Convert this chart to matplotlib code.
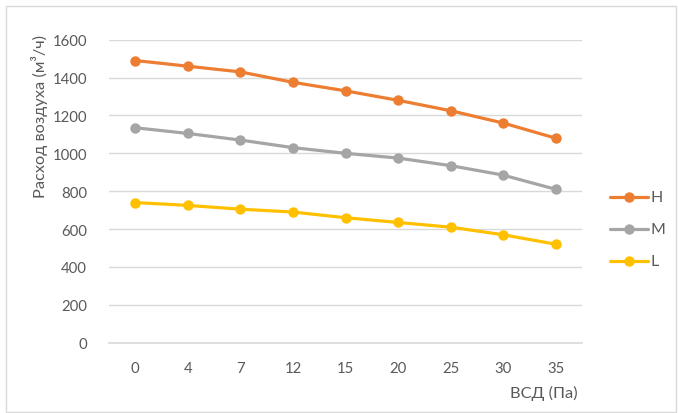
import matplotlib
matplotlib.use("Agg")
import matplotlib.pyplot as plt
from matplotlib.patches import Rectangle
from matplotlib.lines import Line2D

# Pressure categories (Pa) and airflow series (m³/h)
pressure = ["0", "4", "7", "12", "15", "20", "25", "30", "35"]
flow_h = [1490, 1460, 1430, 1375, 1330, 1280, 1225, 1160, 1080]
flow_m = [1135, 1105, 1070, 1030, 1000, 975, 935, 885, 810]
flow_l = [740, 725, 705, 690, 660, 635, 610, 570, 520]
series_names = ["H", "M", "L"]
y_ticks = [0, 200, 400, 600, 800, 1000, 1200, 1400, 1600]

colors = ["#ED7D31", "#A5A5A5", "#FFC000"]
text_color = "#595959"
grid_color = "#D9D9D9"

plt.rcParams["font.family"] = ["Lato", "DejaVu Sans"]

W, H = 678, 414
fig = plt.figure(figsize=(W / 100, H / 100), dpi=100)

# outer chart border
fig.patches.append(Rectangle((6 / W, 1 / H), (W - 8) / W, (H - 8) / H,
                             transform=fig.transFigure, fill=False,
                             edgecolor="#D9D9D9", linewidth=1.0))

left, right = 109, 582
top, bottom = 40.7, 343.7
ax = fig.add_axes([left / W, 1 - bottom / H, (right - left) / W, (bottom - top) / H])

x = list(range(len(pressure)))
for vals, c, name in zip([flow_h, flow_m, flow_l], colors, series_names):
    ax.plot(x, vals, color=c, linewidth=2.3, marker="o", markersize=7.5,
            markeredgewidth=0, label=name, solid_capstyle="round", zorder=3)

ax.set_xlim(-0.5, len(pressure) - 0.5)
ax.set_ylim(0, 1600)
ax.set_yticks(y_ticks)
ax.set_yticklabels([str(v) for v in y_ticks])
ax.set_xticks(x)
ax.set_xticklabels(pressure)

ax.grid(axis="y", color=grid_color, linewidth=1.0, zorder=0)
ax.set_axisbelow(True)
for s in ["top", "right", "left"]:
    ax.spines[s].set_visible(False)
ax.spines["bottom"].set_color(grid_color)
ax.spines["bottom"].set_linewidth(1.2)

ax.tick_params(axis="both", length=0, labelsize=10.7, labelcolor=text_color)
ax.tick_params(axis="y", pad=16)
ax.tick_params(axis="x", pad=13)

# axis titles
fig.text(40 / W, 1 - 117 / H, "Расход воздуха (м³/ч)", rotation=90,
         ha="center", va="center", fontsize=11.8, color=text_color)
fig.text(578 / W, 1 - 393 / H, "ВСД (Па)", ha="right", va="center",
         fontsize=11.8, color=text_color)

# legend
legend_rows = [198.3, 230, 261.7]
for name, c, yy in zip(series_names, colors, legend_rows):
    yf = 1 - yy / H
    fig.add_artist(Line2D([610 / W, 648 / W], [yf, yf], transform=fig.transFigure,
                          color=c, linewidth=2.3, solid_capstyle="round"))
    fig.add_artist(Line2D([629 / W], [yf], transform=fig.transFigure, color=c,
                          marker="o", markersize=7.5, markeredgewidth=0))
    fig.text(651 / W, yf, name, ha="left", va="center", fontsize=11.5,
             color=text_color)

fig.savefig("out.png", dpi=100)
